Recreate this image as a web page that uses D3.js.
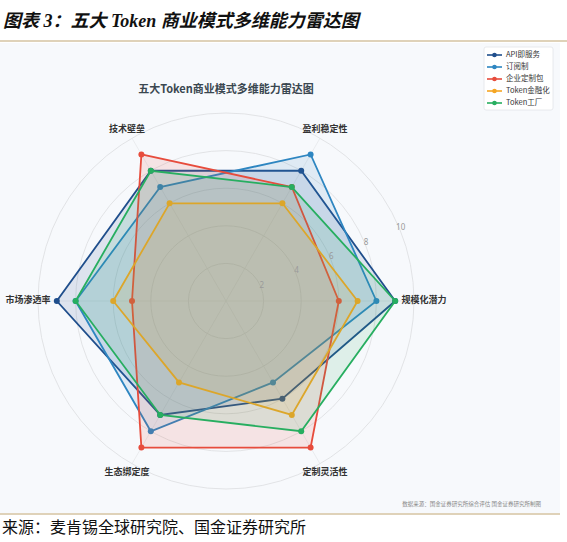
<!DOCTYPE html>
<html><head><meta charset="utf-8">
<script src="https://cdn.jsdelivr.net/npm/d3@7"></script>
<style>body{margin:0;background:#fff;}svg{display:block;}</style>
</head><body>
<svg id="c" width="567" height="542"></svg>
<script>
const categories = ["规模化潜力","盈利稳定性","技术壁垒","市场渗透率","生态绑定度","定制灵活性"];
const seriesNames = ["API即服务","订阅制","企业定制包","Token金融化","Token工厂"];
const apiValues = [9,8,8,9,7,6];
const subscriptionValues = [8,9,7,8,8,5];
const enterpriseValues = [6,7,9,5,9,9];
const financeValues = [7,6,6,6,5,7];
const factoryValues = [9,7,8,8,7,8];
const colors = ["#1f4e8c","#2e86c1","#e74c3c","#f5a623","#27ae60"];
const tickValues = [2,4,6,8,10];
const seriesValues = [apiValues, subscriptionValues, enterpriseValues, financeValues, factoryValues];

const svg = d3.select("#c");
const cx = 226, cy = 301;
const r = d3.scaleLinear().domain([0,10]).range([0,188]);
const ang = d3.scaleLinear().domain([0, categories.length]).range([0, 2*Math.PI]);
const px = (i,v) => cx + r(v)*Math.cos(ang(i));
const py = (i,v) => cy - r(v)*Math.sin(ang(i));

// header
svg.append("text").attr("x",3).attr("y",27)
  .attr("font-family","'Liberation Serif','Noto Sans CJK SC',serif")
  .attr("font-size",18).attr("font-style","italic").attr("font-weight","bold").attr("fill","#111")
  .text("图表 3：五大 Token 商业模式多维能力雷达图");
svg.append("line").attr("x1",0).attr("x2",567).attr("y1",41).attr("y2",41).attr("stroke","#bfa574").attr("stroke-width",1.2);
// panel
svg.append("rect").attr("x",0).attr("y",43).attr("width",560).attr("height",470).attr("fill","#f7f9fc");
svg.append("line").attr("x1",0).attr("x2",560).attr("y1",514).attr("y2",514).attr("stroke","#bfa574").attr("stroke-width",1.2);
svg.append("text").attr("x",2).attr("y",533)
  .attr("font-family","'Noto Sans CJK SC',sans-serif").attr("font-size",16).attr("fill","#111")
  .text("来源：麦肯锡全球研究院、国金证券研究所");

// chart title
svg.append("text").attr("x",226).attr("y",93).attr("text-anchor","middle")
  .attr("font-family","'Noto Sans CJK SC',sans-serif").attr("font-size",11).attr("font-weight","bold").attr("fill","#3a4750")
  .text("五大Token商业模式多维能力雷达图");

// grid
const g = svg.append("g");
tickValues.forEach(t => {
  g.append("circle").attr("cx",cx).attr("cy",cy).attr("r",r(t)).attr("fill","none").attr("stroke","#dcdde0").attr("stroke-width",0.8);
});
categories.forEach((c,i) => {
  g.append("line").attr("x1",cx).attr("y1",cy).attr("x2",px(i,10)).attr("y2",py(i,10)).attr("stroke","#e4e5e8").attr("stroke-width",0.7);
});

// series
const line = d3.line().x(d=>d[0]).y(d=>d[1]).curve(d3.curveLinearClosed);
seriesValues.forEach((vals,s) => {
  const pts = vals.map((v,i)=>[px(i,v),py(i,v)]);
  svg.append("path").attr("d",line(pts)).attr("fill",colors[s]).attr("fill-opacity",0.12)
    .attr("stroke",colors[s]).attr("stroke-width",1.8).attr("stroke-linejoin","miter");
  svg.selectAll(null).data(pts).enter().append("circle")
    .attr("cx",d=>d[0]).attr("cy",d=>d[1]).attr("r",3).attr("fill",colors[s]);
});

// tick labels
const ta = 22.5*Math.PI/180;
tickValues.forEach(t => {
  svg.append("text").attr("x",cx + r(t)*Math.cos(ta)+1).attr("y",cy - r(t)*Math.sin(ta)-1)
    .attr("text-anchor","middle").attr("dominant-baseline","middle")
    .attr("font-family","'Noto Sans',sans-serif").attr("font-size",8).attr("fill","#9a9a9a").text(t);
});

// category labels
categories.forEach((c,i) => {
  svg.append("text").attr("x",cx + 198*Math.cos(ang(i))).attr("y",cy - 198*Math.sin(ang(i)))
    .attr("text-anchor","middle").attr("dominant-baseline","middle")
    .attr("font-family","'Noto Sans CJK SC',sans-serif").attr("font-size",9).attr("font-weight","bold").attr("fill","#333")
    .text(c);
});

// legend
const lg = svg.append("g");
lg.append("rect").attr("x",484).attr("y",47).attr("width",69).attr("height",63).attr("rx",2)
  .attr("fill","#ffffff").attr("stroke","#e2e4e8").attr("stroke-width",0.8);
seriesNames.forEach((n,s) => {
  const y = 55 + s*12;
  lg.append("line").attr("x1",487).attr("x2",502).attr("y1",y).attr("y2",y).attr("stroke",colors[s]).attr("stroke-width",1.6);
  lg.append("circle").attr("cx",494.5).attr("cy",y).attr("r",2.3).attr("fill",colors[s]);
  lg.append("text").attr("x",506).attr("y",y).attr("dominant-baseline","middle")
    .attr("font-family","'Noto Sans CJK SC',sans-serif").attr("font-size",7.5).attr("fill","#333").text(n);
});

// footnote
svg.append("text").attr("x",541).attr("y",506).attr("text-anchor","end")
  .attr("font-family","'Noto Sans CJK SC',sans-serif").attr("font-size",5.5).attr("fill","#888")
  .text("数据来源：国金证券研究所综合评估  国金证券研究所制图");
</script>
</body></html>
